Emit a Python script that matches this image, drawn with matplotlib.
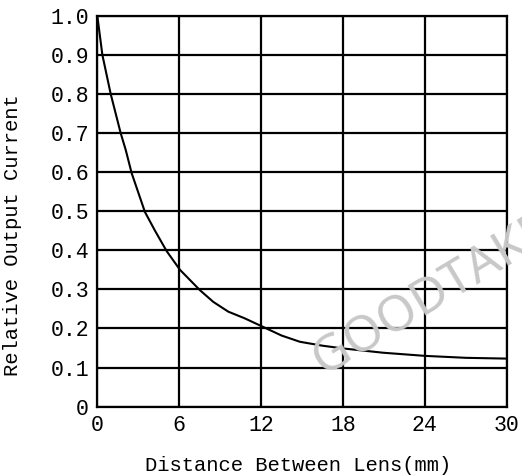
#!/usr/bin/env python3

import matplotlib
matplotlib.use('Agg')
import matplotlib.pyplot as plt

# curve
distance = [0, 0.37, 0.98, 1.71, 2.08, 2.52, 3.49, 4.23, 5.08, 6.06, 7.52, 8.5,
            9.6, 10.8, 12.4, 13.5, 14.85, 16.5, 18.0, 20.95, 24.0, 27.0, 30.0]
current = [1.0, 0.9, 0.8, 0.7, 0.657, 0.597, 0.498, 0.45, 0.398, 0.35, 0.298, 0.268,
           0.243, 0.226, 0.2, 0.182, 0.166, 0.156, 0.149, 0.138, 0.13, 0.125, 0.123]

xticks = [0, 6, 12, 18, 24, 30]
yticks = [0, 0.1, 0.2, 0.3, 0.4, 0.5, 0.6, 0.7, 0.8, 0.9, 1.0]
ytick_labels = ['0', '0.1', '0.2', '0.3', '0.4', '0.5', '0.6', '0.7', '0.8', '0.9', '1.0']

plt.rcParams['font.family'] = ['Liberation Mono', 'DejaVu Sans Mono']

fig = plt.figure(figsize=(5.22, 4.75), dpi=100)
ax = fig.add_axes([0.1864, 0.1438, 0.9707 - 0.1864, 0.967 - 0.1438])

ax.plot(distance, current, color='black', linewidth=1.5, zorder=3)

ax.set_xlim(0, 30)
ax.set_ylim(0, 1.0)
ax.set_xticks(xticks)
ax.set_xticklabels([str(t) for t in xticks])
ax.set_yticks(yticks)
ax.set_yticklabels(ytick_labels)
ax.grid(True, color='black', linewidth=1.6)
ax.tick_params(length=0, labelsize=15.5, pad=6)
for s in ax.spines.values():
	s.set_linewidth(1.6)

ax.set_xlabel('Distance Between Lens(mm)', fontsize=14.8)
ax.set_ylabel('Relative Output Current', fontsize=14.8)
ax.xaxis.set_label_coords(0.49, -0.125)
ax.yaxis.set_label_coords(-0.183, 0.44)

# watermark
fig.text(324 / 522, 1 - 376 / 475, 'GOODTAKE', color='#c8c8c8', fontsize=36,
         family=['Noto Sans', 'DejaVu Sans'], fontstretch='condensed',
         rotation=31, rotation_mode='anchor', ha='left', va='baseline', zorder=0)

fig.savefig('out.png', dpi=100)
